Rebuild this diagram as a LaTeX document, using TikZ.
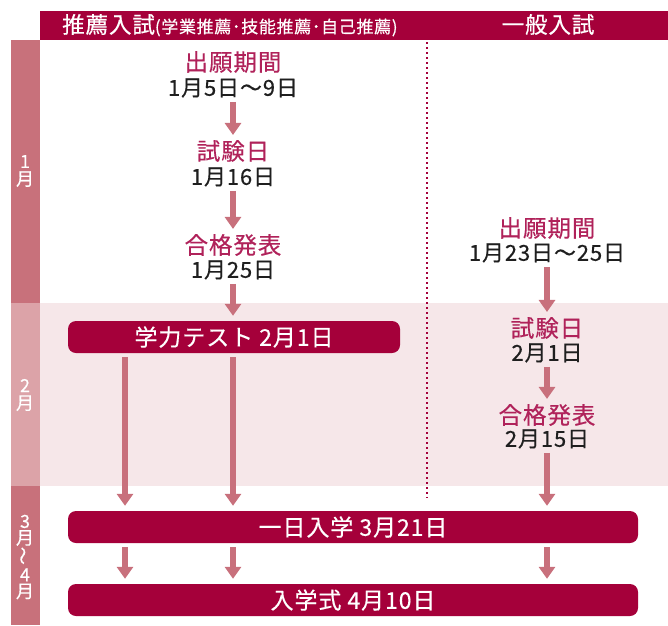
\documentclass[tikz,border=0pt]{standalone}
\usepackage{fontspec}
\setmainfont{Noto Sans CJK JP}[FakeBold=0.4,LetterSpace=4]
\usetikzlibrary{arrows.meta}
\definecolor{crimson}{HTML}{A5003A}
\definecolor{titlered}{HTML}{B0225A}
\definecolor{arrowpink}{HTML}{C8707C}
\definecolor{barpink}{HTML}{C8717B}
\definecolor{barlight}{HTML}{DCA3A8}
\definecolor{bandpink}{HTML}{F6E7E9}

\begin{document}
\begin{tikzpicture}[x=1pt,y=-1pt,
  stitle/.style={text=titlered,font=\fontsize{23.5}{23.5}\selectfont,inner sep=0pt},
  sdate/.style={text=black!88,font=\fontsize{22}{22}\selectfont,inner sep=0pt},
  evbox/.style={fill=crimson,rounded corners=8pt,text=white,font=\fontsize{23}{23}\selectfont,minimum height=32pt,inner sep=0pt},
  flow/.style={arrowpink,line width=6pt,-{Triangle[width=16pt,length=12pt]},shorten <=4pt,shorten >=5pt},
  monthlbl/.style={text=white,font=\fontsize{18}{17.5}\selectfont,align=center,inner sep=0pt}]
\useasboundingbox (0,0) rectangle (668,625);

% background
\fill[bandpink] (40,303) rectangle (668,486);
\fill[crimson] (40,11) rectangle (668,40);
\fill[barpink] (11,40) rectangle (40,303);
\fill[barlight] (11,303) rectangle (40,486);
\fill[barpink] (11,486) rectangle (40,625);
\draw[crimson,line width=1.5pt,dash pattern=on 1.5pt off 3.5pt] (427,42) -- (427,498);

\node[anchor=base west,text=white,inner sep=0pt] (hdrL) at (62,33) {{\fontsize{22.5}{22}\selectfont 推薦入試}{\fontsize{17}{17}\selectfont (学業推薦･技能推薦･自己推薦)}};
\node[anchor=base,text=white,inner sep=0pt,font=\fontsize{22.5}{22}\selectfont] (hdrR) at (548,33) {一般入試};

\node[monthlbl] (mJan) at (25,171) {1\\月};
\node[monthlbl] (mFeb) at (25,395) {2\\月};
\node[monthlbl,font=\fontsize{18}{16.5}\selectfont] (mMar) at (25,557) {3\\月\\\rotatebox{90}{〜}\\4\\月};

\coordinate (colA) at (125,0);
\coordinate (colB) at (233,0);
\coordinate (colC) at (547,0);

% suisen
\node[stitle] (lTitle1) at (233,62) {出願期間};
\node[sdate] (lDate1) at (233,88) {1月5日〜9日};
\node[stitle] (lTitle2) at (233,151) {試験日};
\node[sdate] (lDate2) at (233,177) {1月16日};
\node[stitle] (lTitle3) at (233,245) {合格発表};
\node[sdate] (lDate3) at (233,270) {1月25日};

% ippan
\node[stitle] (rTitle1) at (547,228) {出願期間};
\node[sdate] (rDate1) at (547,253) {1月23日〜25日};
\node[stitle] (rTitle2) at (547,328) {試験日};
\node[sdate] (rDate2) at (547,353) {2月1日};
\node[stitle] (rTitle3) at (547,415) {合格発表};
\node[sdate] (rDate3) at (547,439) {2月15日};

\node[evbox,minimum width=332pt] (test) at (234,337) {学力テスト 2月1日};
\node[evbox,minimum width=570pt] (enroll) at (353,527) {一日入学 3月21日};
\node[evbox,minimum width=570pt] (ceremony) at (353,600) {入学式 4月10日};

\draw[flow] (lDate1) -- (lTitle2);
\draw[flow] (lDate2) -- (lTitle3);
\draw[flow] (lDate3) -- (test.north -| lDate3);
\draw[flow] (rDate1) -- (rTitle2);
\draw[flow] (rDate2) -- (rTitle3);
\draw[flow] (rDate3) -- (enroll.north -| rDate3);
\draw[flow] (test.south -| colA) -- (enroll.north -| colA);
\draw[flow] (test.south -| colB) -- (enroll.north -| colB);
\foreach \c in {colA,colB,colC}
  \draw[flow] (enroll.south -| \c) -- (ceremony.north -| \c);
\end{tikzpicture}
\end{document}
